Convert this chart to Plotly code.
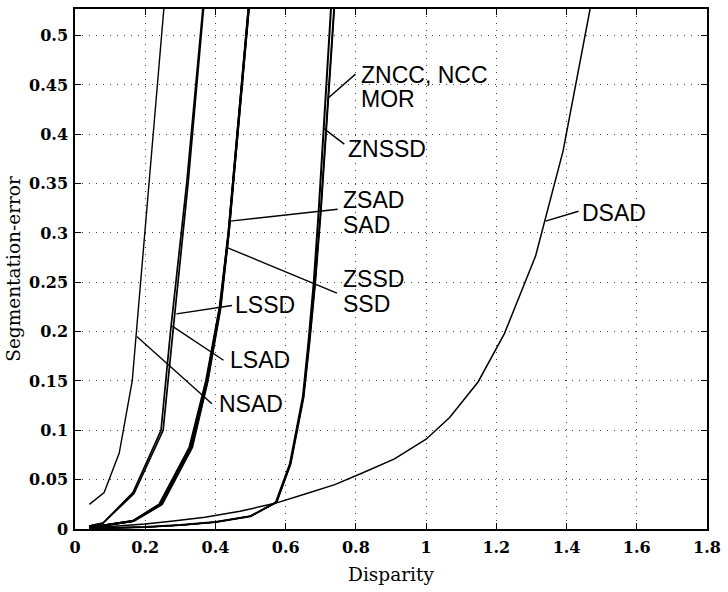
import plotly.graph_objects as go

# ---- error curves: disparity vs. segmentation error ----
nsad_x = [0.041, 0.083, 0.126, 0.163, 0.253]
nsad_y = [0.025, 0.037, 0.077, 0.150, 0.527]

lsad_x = [0.040, 0.080, 0.165, 0.245, 0.272, 0.318, 0.364]
lsad_y = [0.003, 0.006, 0.037, 0.100, 0.200, 0.350, 0.527]
lssd_x = [0.040, 0.080, 0.168, 0.251, 0.279, 0.322, 0.366]
lssd_y = [0.003, 0.006, 0.036, 0.100, 0.200, 0.350, 0.527]

zsad_x = [0.040, 0.090, 0.164, 0.240, 0.326, 0.373, 0.412, 0.437, 0.452, 0.494]
zsad_y = [0.002, 0.004, 0.008, 0.025, 0.083, 0.150, 0.225, 0.300, 0.360, 0.527]
sad_x = [0.040, 0.090, 0.165, 0.242, 0.328, 0.375, 0.413, 0.438, 0.453, 0.495]
sad_y = [0.002, 0.004, 0.008, 0.025, 0.083, 0.150, 0.225, 0.300, 0.360, 0.527]
zssd_x = [0.040, 0.090, 0.166, 0.246, 0.332, 0.377, 0.414, 0.437, 0.452, 0.494]
zssd_y = [0.002, 0.004, 0.008, 0.025, 0.083, 0.150, 0.225, 0.300, 0.360, 0.527]
ssd_x = [0.040, 0.090, 0.167, 0.248, 0.334, 0.378, 0.415, 0.438, 0.453, 0.495]
ssd_y = [0.002, 0.004, 0.008, 0.025, 0.083, 0.150, 0.225, 0.300, 0.360, 0.527]

zncc_x = [0.040, 0.100, 0.200, 0.300, 0.400, 0.500, 0.574, 0.614, 0.651, 0.668, 0.684, 0.700, 0.716, 0.738]
zncc_y = [0.0005, 0.001, 0.002, 0.004, 0.007, 0.013, 0.027, 0.066, 0.134, 0.190, 0.250, 0.322, 0.410, 0.527]
ncc_x = [0.040, 0.100, 0.200, 0.300, 0.400, 0.500, 0.575, 0.615, 0.652, 0.669, 0.685, 0.701, 0.717, 0.739]
ncc_y = [0.0005, 0.001, 0.002, 0.004, 0.007, 0.013, 0.027, 0.066, 0.134, 0.190, 0.250, 0.322, 0.410, 0.527]
mor_x = [0.040, 0.100, 0.200, 0.300, 0.400, 0.500, 0.573, 0.613, 0.650, 0.667, 0.683, 0.699, 0.715, 0.737]
mor_y = [0.0005, 0.001, 0.002, 0.004, 0.007, 0.013, 0.027, 0.066, 0.134, 0.190, 0.250, 0.322, 0.410, 0.527]
znssd_x = [0.040, 0.100, 0.200, 0.300, 0.400, 0.500, 0.572, 0.612, 0.649, 0.665, 0.680, 0.694, 0.708, 0.729]
znssd_y = [0.0005, 0.001, 0.002, 0.004, 0.007, 0.013, 0.027, 0.066, 0.134, 0.190, 0.250, 0.322, 0.406, 0.527]

dsad_x = [0.04, 0.12, 0.20, 0.28, 0.37, 0.47, 0.57, 0.66, 0.74, 0.82, 0.91, 1.00,
          1.067, 1.148, 1.223, 1.312, 1.39, 1.467]
dsad_y = [0.001, 0.003, 0.005, 0.008, 0.012, 0.018, 0.026, 0.036, 0.045, 0.057, 0.071, 0.091,
          0.113, 0.149, 0.198, 0.277, 0.383, 0.527]

# ---- axes ----
x_ticks = [0, 0.2, 0.4, 0.6, 0.8, 1, 1.2, 1.4, 1.6, 1.8]
x_tick_text = ["0", "0.2", "0.4", "0.6", "0.8", "1", "1.2", "1.4", "1.6", "1.8"]
y_ticks = [0, 0.05, 0.1, 0.15, 0.2, 0.25, 0.3, 0.35, 0.4, 0.45, 0.5]
y_tick_text = ["0", "0.05", "0.1", "0.15", "0.2", "0.25", "0.3", "0.35", "0.4", "0.45", "0.5"]

# ---- callouts: label lines (text, text x, text y, leader start, leader end on curve) ----
label_text = ["ZNCC, NCC", "MOR", "ZNSSD", "ZSAD", "SAD", "ZSSD", "SSD",
              "LSSD", "LSAD", "NSAD", "DSAD"]
label_x = [0.809, 0.809, 0.773, 0.757, 0.757, 0.757, 0.757, 0.451, 0.437, 0.404, 1.439]
label_y = [0.460, 0.436, 0.385, 0.333, 0.308, 0.253, 0.228, 0.227, 0.171, 0.127, 0.320]

leader_x0 = [0.799, 0.767, 0.748, 0.746, 0.447, 0.423, 0.390, 1.434]
leader_y0 = [0.461, 0.390, 0.324, 0.239, 0.2265, 0.171, 0.127, 0.322]
leader_x1 = [0.722, 0.708, 0.442, 0.435, 0.289, 0.277, 0.176, 1.340]
leader_y1 = [0.437, 0.406, 0.312, 0.285, 0.218, 0.2056, 0.195, 0.312]

curves = [
    ("NSAD", nsad_x, nsad_y, 1.4),
    ("LSAD", lsad_x, lsad_y, 1.7),
    ("LSSD", lssd_x, lssd_y, 1.7),
    ("ZSAD", zsad_x, zsad_y, 2.0),
    ("SAD", sad_x, sad_y, 2.0),
    ("ZSSD", zssd_x, zssd_y, 2.0),
    ("SSD", ssd_x, ssd_y, 2.0),
    ("ZNCC", zncc_x, zncc_y, 1.3),
    ("NCC", ncc_x, ncc_y, 1.3),
    ("MOR", mor_x, mor_y, 1.3),
    ("ZNSSD", znssd_x, znssd_y, 2.0),
    ("DSAD", dsad_x, dsad_y, 1.5),
]

fig = go.Figure()
for name, xs, ys, w in curves:
    fig.add_trace(go.Scatter(x=xs, y=ys, mode="lines", name=name,
                             line=dict(color="black", width=w), showlegend=False))

for x0, y0, x1, y1 in zip(leader_x0, leader_y0, leader_x1, leader_y1):
    fig.add_shape(type="line", xref="x", yref="y", x0=x0, y0=y0, x1=x1, y1=y1,
                  line=dict(color="black", width=1.4))

for t, x, y in zip(label_text, label_x, label_y):
    fig.add_annotation(x=x, y=y, xref="x", yref="y", text=t, showarrow=False,
                       xanchor="left", yanchor="middle",
                       font=dict(family="Liberation Sans", size=23, color="black"))

tick_font = dict(family="DejaVu Serif", size=16, color="black", weight="bold")
title_font = dict(family="DejaVu Serif", size=18.5, color="black")
grid = dict(showgrid=True, gridcolor="#444", gridwidth=1, griddash="1px,6px",
            showline=True, linecolor="black", linewidth=1.5, mirror="ticks",
            ticks="inside", ticklen=6, tickwidth=1.3, tickcolor="black",
            zeroline=False, tickfont=tick_font)

fig.update_xaxes(range=[0, 1.8], tickvals=x_ticks, ticktext=x_tick_text,
                 title=dict(text="Disparity", font=title_font, standoff=12),
                 ticklabelstandoff=3, **grid)
fig.update_yaxes(range=[0, 0.527], tickvals=y_ticks, ticktext=y_tick_text,
                 title=dict(text="Segmentation-error", font=title_font, standoff=4),
                 ticklabelstandoff=2, **grid)

fig.update_layout(width=728, height=592, margin=dict(l=75, r=15, t=7, b=63),
                  plot_bgcolor="white", paper_bgcolor="white")

fig.write_html("out.html")
